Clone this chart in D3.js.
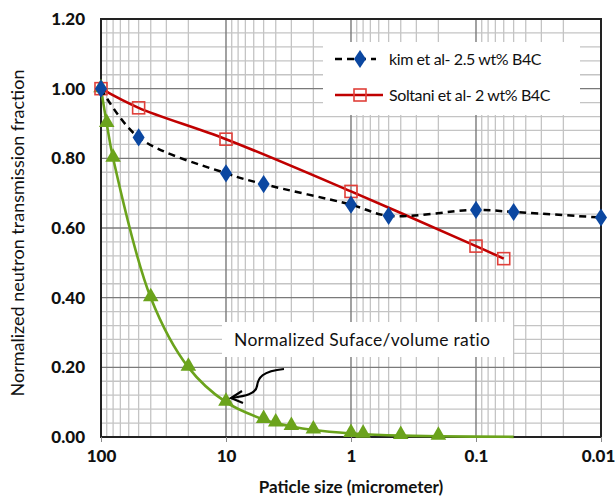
<!DOCTYPE html>
<html><head><meta charset="utf-8">
<script src="https://cdn.jsdelivr.net/npm/d3@7"></script>
<style>body{margin:0;background:#fff}svg{display:block}</style>
</head><body><svg id="c" width="616" height="499"></svg>
<script>
// Data
const kimSize = [100, 50, 10, 5, 1, 0.5, 0.1, 0.05, 0.01];
const kimValue = [1.00, 0.86, 0.757, 0.726, 0.667, 0.635, 0.652, 0.646, 0.63];
const soltaniSize = [100, 50, 10, 1, 0.1, 0.06];
const soltaniValue = [1.00, 0.945, 0.855, 0.705, 0.548, 0.512];
const svSize = [100, 90, 80, 40, 20, 10, 5, 4, 3, 2, 1, 0.8, 0.4, 0.2, 0.05];
const svValue = [1.00, 0.90, 0.80, 0.40, 0.20, 0.10, 0.05, 0.04, 0.03, 0.02, 0.01, 0.008, 0.004, 0.002, 0.0005];
const svMarkerCount = 14; // last point has no marker
const xTicks = [100, 10, 1, 0.1, 0.01];
const xTickLabels = ["100", "10", "1", "0.1", "0.01"];
const yTicks = [0, 0.2, 0.4, 0.6, 0.8, 1.0, 1.2];
const seriesNames = ["kim et al- 2.5 wt% B4C", "Soltani et al- 2 wt% B4C"];

const svg = d3.select("#c");
const FONT = "Lato, 'Open Sans', sans-serif";
const L = 101, R = 601, T = 19, B = 437;
const x = d3.scaleLog().domain([100, 0.01]).range([L, R]);
const y = d3.scaleLinear().domain([0, 1.2]).range([B, T]);

// Grid
const g = svg.append("g");
const minorX = [];
for (let k = -2; k <= 1; k++) for (let d = 2; d <= 9; d++) minorX.push(d * Math.pow(10, k));
g.selectAll(".vx").data(minorX).enter().append("line")
  .attr("x1", d => x(d)).attr("x2", d => x(d)).attr("y1", T).attr("y2", B)
  .attr("stroke", "#c4c4c4").attr("stroke-width", 1.3);
const minorY = d3.range(0, 31).map(i => i * 0.04).filter(v => Math.round(v * 100) % 20 !== 0);
g.selectAll(".hy").data(minorY).enter().append("line")
  .attr("x1", L).attr("x2", R).attr("y1", d => y(d)).attr("y2", d => y(d))
  .attr("stroke", "#c4c4c4").attr("stroke-width", 1.3);
g.selectAll(".vX").data(xTicks).enter().append("line")
  .attr("x1", d => x(d)).attr("x2", d => x(d)).attr("y1", T).attr("y2", B)
  .attr("stroke", "#7a7a7a").attr("stroke-width", 1.4);
g.selectAll(".hY").data(yTicks).enter().append("line")
  .attr("x1", L).attr("x2", R).attr("y1", d => y(d)).attr("y2", d => y(d))
  .attr("stroke", "#7a7a7a").attr("stroke-width", 1.4);

// Frame
svg.append("rect").attr("x", L).attr("y", T).attr("width", R - L).attr("height", B - T)
  .attr("fill", "none").attr("stroke", "#222").attr("stroke-width", 2);

// Axes
const xAxis = svg.append("g").attr("transform", `translate(0,${B})`)
  .call(d3.axisBottom(x).tickValues(xTicks).tickFormat((d, i) => xTickLabels[i]).tickSize(5).tickPadding(8));
xAxis.select(".domain").remove();
xAxis.selectAll("line").attr("stroke", "#888");
xAxis.selectAll("text").attr("font-family", FONT).attr("font-weight", 900).attr("font-size", 17).attr("fill", "#111")
  .attr("dx", (d, i) => i === xTicks.length - 1 ? -3 : 0);

const yAxis = svg.append("g").attr("transform", `translate(${L},0)`)
  .call(d3.axisLeft(y).tickValues(yTicks).tickFormat(d3.format(".2f")).tickSize(0).tickPadding(16));
yAxis.select(".domain").remove();
yAxis.selectAll("text").attr("font-family", FONT).attr("font-weight", 900).attr("font-size", 17).attr("fill", "#111");

// Titles
svg.append("text").attr("transform", "translate(24,233) rotate(-90)").attr("text-anchor", "middle")
  .attr("font-family", FONT).attr("font-size", 18).attr("fill", "#111")
  .text("Normalized neutron transmission fraction");
svg.append("text").attr("x", 351).attr("y", 493).attr("text-anchor", "middle")
  .attr("font-family", FONT).attr("font-weight", "bold").attr("font-size", 17).attr("fill", "#111")
  .text("Paticle size (micrometer)");

const curve = d3.curveCatmullRom.alpha(0.5);
const mk = (sx, vy) => sx.map((s, i) => [s, vy[i]]);
const line = d3.line().x(d => x(d[0])).y(d => y(d[1])).curve(curve);

// Green series
const sv = mk(svSize, svValue);
svg.append("path").attr("d", line(sv)).attr("fill", "none").attr("stroke", "#6ba31c").attr("stroke-width", 2.6);
const tri = d3.symbol().type(d3.symbolTriangle).size(105);
svg.selectAll(".tri").data(sv.slice(0, svMarkerCount)).enter().append("path")
  .attr("d", tri).attr("transform", d => `translate(${x(d[0])},${y(d[1]) - 1})`).attr("fill", "#6ba31c");

// Soltani series
const so = mk(soltaniSize, soltaniValue);
svg.append("path").attr("d", line(so)).attr("fill", "none").attr("stroke", "#c00000").attr("stroke-width", 2.6);
svg.selectAll(".sq").data(so).enter().append("rect")
  .attr("x", d => x(d[0]) - 6).attr("y", d => y(d[1]) - 6).attr("width", 12).attr("height", 12)
  .attr("fill", "none").attr("stroke", "#e0403a").attr("stroke-width", 1.6);

// Kim series
const ki = mk(kimSize, kimValue);
svg.append("path").attr("d", line(ki)).attr("fill", "none").attr("stroke", "#000").attr("stroke-width", 2.5)
  .attr("stroke-dasharray", "7,5");
const dia = d3.symbol().type(d3.symbolDiamond).size(95);
svg.selectAll(".dia").data(ki).enter().append("path")
  .attr("d", dia).attr("transform", d => `translate(${x(d[0])},${y(d[1])}) scale(1.15,1)`).attr("fill", "#0b47a1");

// Legend
const lg = svg.append("g");
lg.append("rect").attr("x", 323).attr("y", 42).attr("width", 257).attr("height", 73).attr("fill", "#fff");
lg.append("line").attr("x1", 335).attr("x2", 376).attr("y1", 59).attr("y2", 59)
  .attr("stroke", "#000").attr("stroke-width", 2.5).attr("stroke-dasharray", "7,5");
lg.append("path").attr("d", dia).attr("transform", "translate(360,59) scale(1.15,1)").attr("fill", "#0b47a1");
lg.append("line").attr("x1", 335).attr("x2", 383).attr("y1", 95).attr("y2", 95)
  .attr("stroke", "#c00000").attr("stroke-width", 2.5);
lg.append("rect").attr("x", 354).attr("y", 89).attr("width", 12).attr("height", 12)
  .attr("fill", "none").attr("stroke", "#e0403a").attr("stroke-width", 1.6);
lg.selectAll(".lt").data(seriesNames).enter().append("text")
  .attr("x", 389).attr("y", (d, i) => 65 + i * 36)
  .attr("font-family", FONT).attr("font-size", 16).attr("fill", "#111").attr("letter-spacing", -0.4)
  .text(d => d);

// Annotation
svg.append("rect").attr("x", 222).attr("y", 322).attr("width", 291).attr("height", 35).attr("fill", "#fff");
svg.append("text").attr("x", 234).attr("y", 346)
  .attr("font-family", FONT).attr("font-size", 17.5).attr("fill", "#111").attr("letter-spacing", 0.3)
  .text("Normalized Suface/volume ratio");
svg.append("path").attr("d", "M284,369 C262,371 258,378 257,386 C256,394 245,396 232,398")
  .attr("fill", "none").attr("stroke", "#000").attr("stroke-width", 2.2);
svg.append("path").attr("d", "M242,391 L231,398 L243,403")
  .attr("fill", "none").attr("stroke", "#000").attr("stroke-width", 2.2);
</script></body></html>
